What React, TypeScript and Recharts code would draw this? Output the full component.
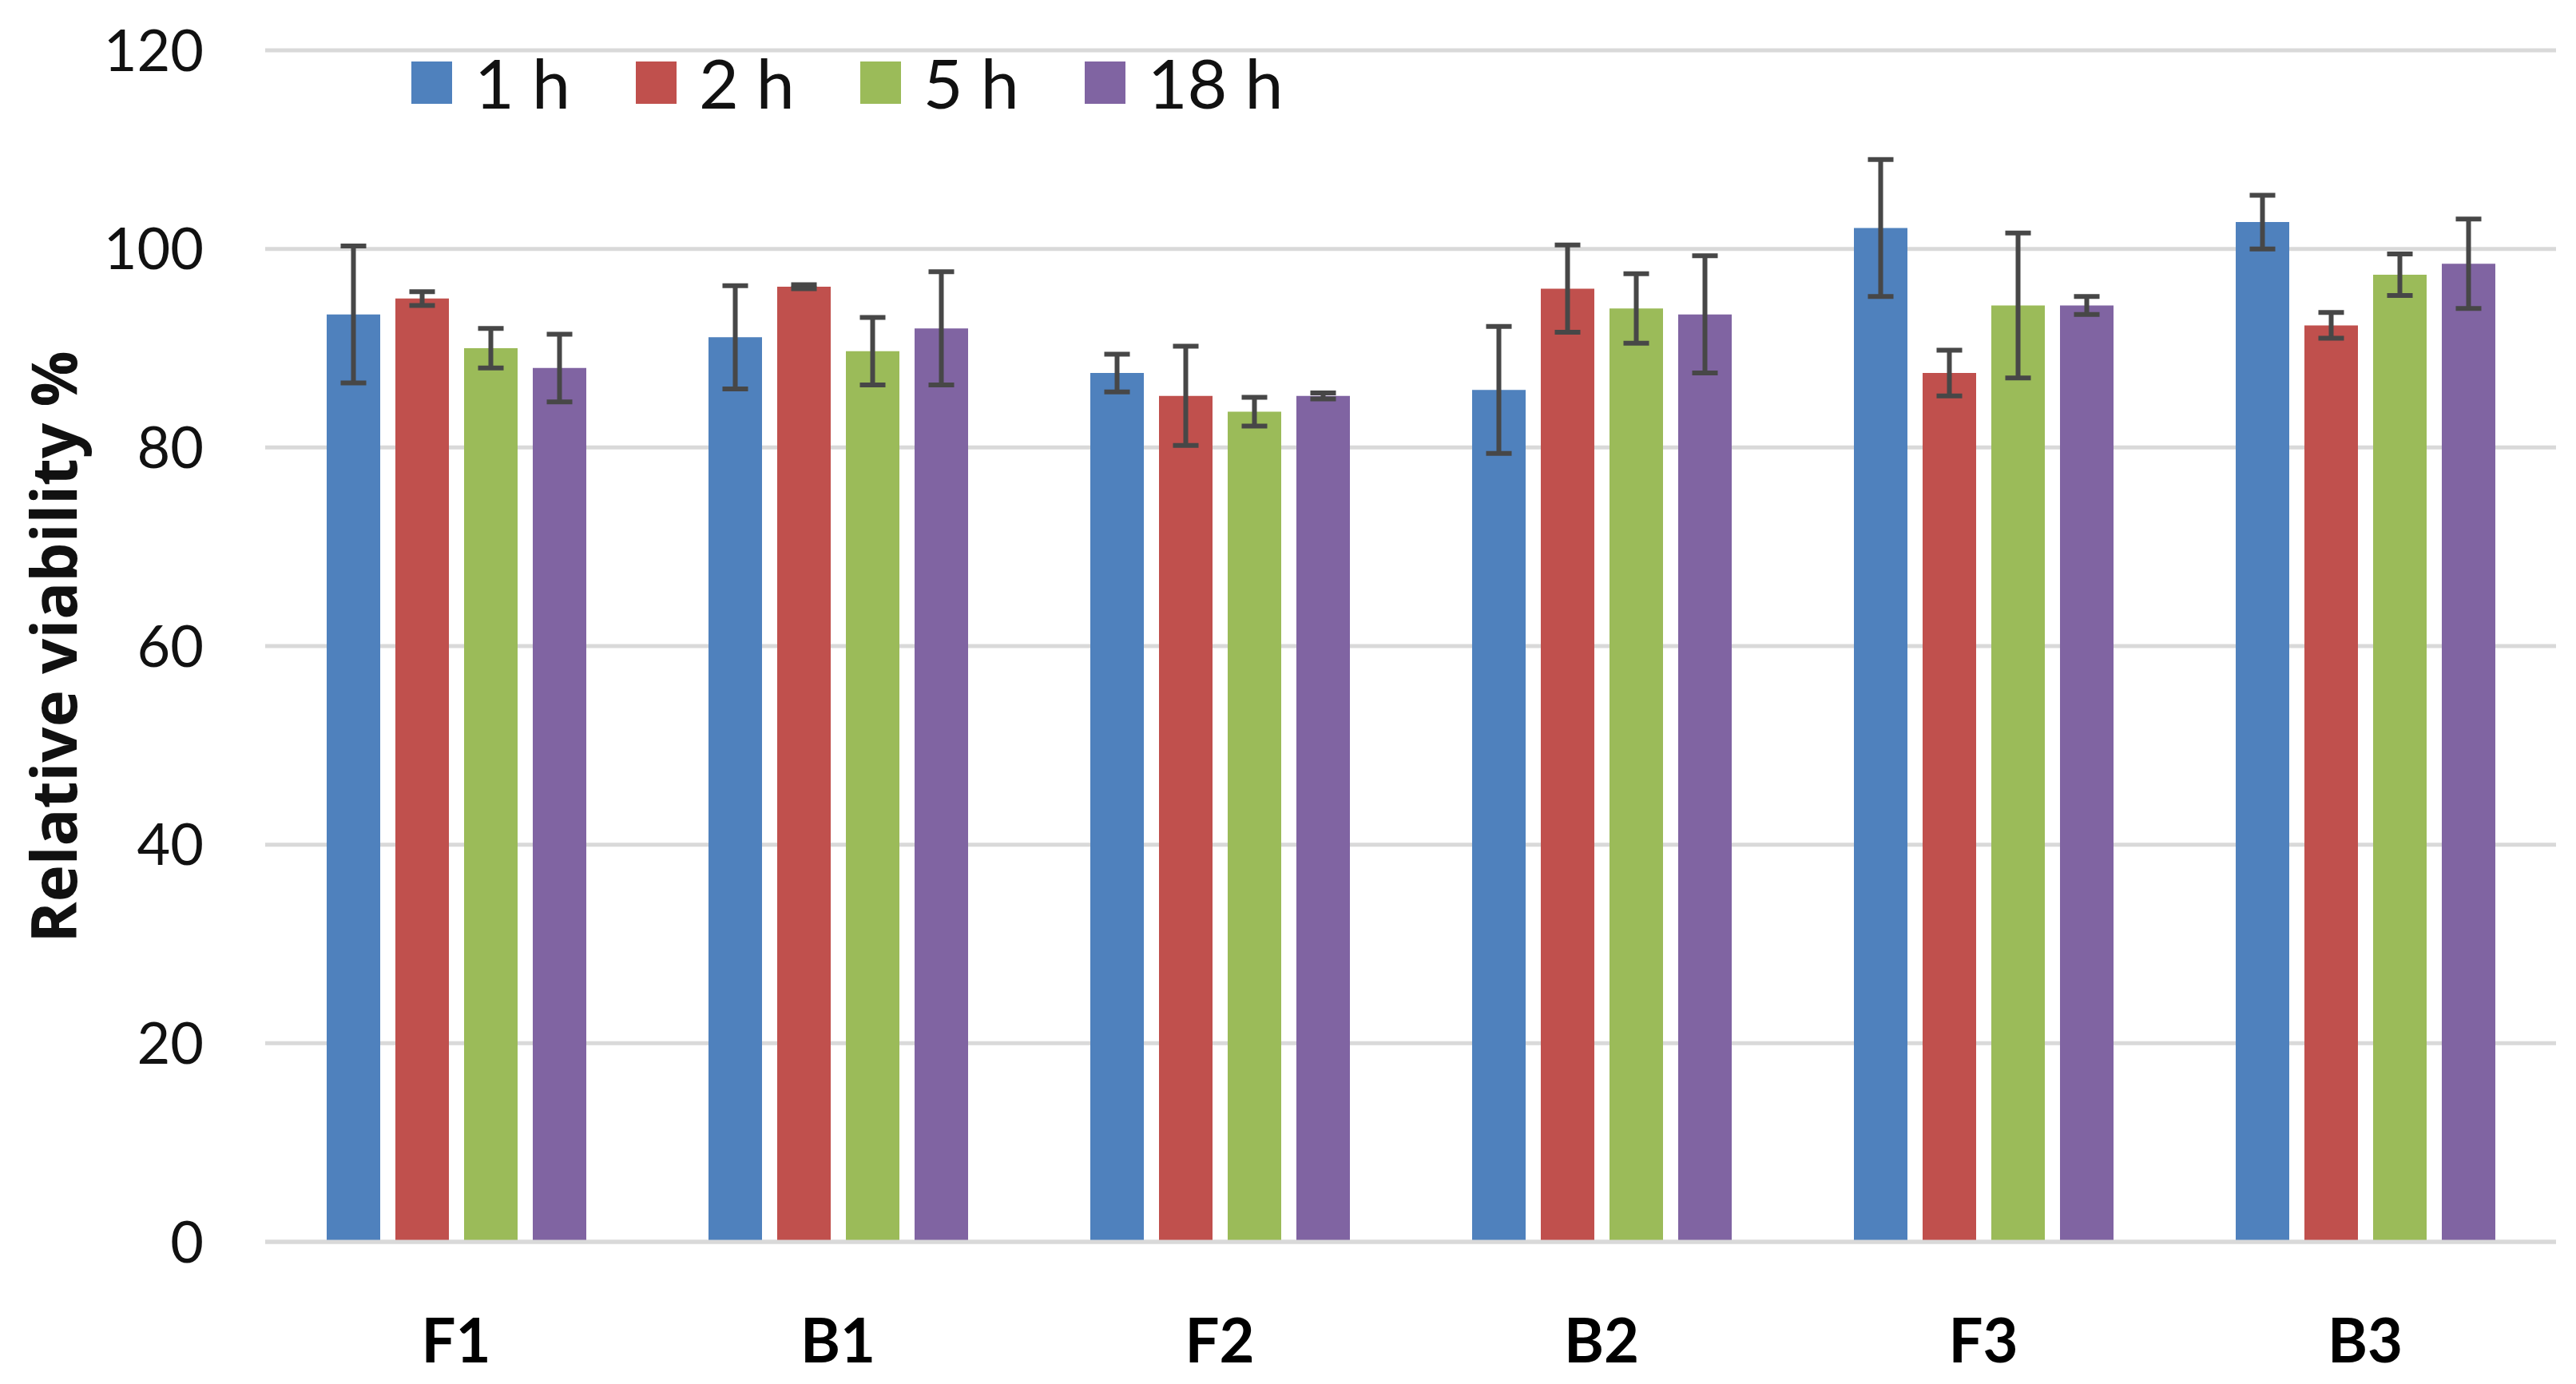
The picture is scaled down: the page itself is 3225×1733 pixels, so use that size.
import { BarChart, Bar, XAxis, YAxis, CartesianGrid, ErrorBar, Legend } from "recharts";

const categories = ["F1", "B1", "F2", "B2", "F3", "B3"];
const h1 = [93.4, 91.1, 87.5, 85.8, 102.1, 102.7];
const h1Err = [6.9, 5.2, 1.9, 6.4, 6.9, 2.7];
const h2 = [95.0, 96.2, 85.2, 96.0, 87.5, 92.3];
const h2Err = [0.7, 0.2, 5.0, 4.4, 2.3, 1.3];
const h5 = [90.0, 89.7, 83.6, 94.0, 94.3, 97.4];
const h5Err = [2.0, 3.4, 1.45, 3.5, 7.3, 2.1];
const h18 = [88.0, 92.0, 85.2, 93.4, 94.3, 98.5];
const h18Err = [3.4, 5.7, 0.3, 5.9, 0.9, 4.5];
const yTicks = [0, 20, 40, 60, 80, 100, 120];

const series = [
  { key: "h1", name: "1 h", color: "#4F81BD" },
  { key: "h2", name: "2 h", color: "#C0504D" },
  { key: "h5", name: "5 h", color: "#9BBB59" },
  { key: "h18", name: "18 h", color: "#8064A2" },
];

const data = categories.map((c, i) => ({
  name: c,
  h1: h1[i],
  h1Err: h1Err[i],
  h2: h2[i],
  h2Err: h2Err[i],
  h5: h5[i],
  h5Err: h5Err[i],
  h18: h18[i],
  h18Err: h18Err[i],
}));

const order = series.map((s) => s.name);

const renderLegend = (props: any) => {
  // keep series order (recharts sorts legend items by name)
  const payload = [...(props.payload || [])].sort(
    (a: any, b: any) => order.indexOf(a.value) - order.indexOf(b.value)
  );
  return (
    <div style={{ display: "flex", alignItems: "center" }}>
      {payload.map((entry: any, i: number) => (
        <div key={i} style={{ display: "flex", alignItems: "center", marginRight: 82 }}>
          <div style={{ width: 51, height: 53, background: entry.color, marginRight: 28 }} />
          <span style={{ fontFamily: "Lato", fontSize: 86, color: "#111", lineHeight: "86px" }}>
            {entry.value}
          </span>
        </div>
      ))}
    </div>
  );
};

const YTitle = () => (
  <text
    x={66}
    y={810}
    transform="rotate(-90 66 810)"
    textAnchor="middle"
    dominantBaseline="central"
    fontFamily="Open Sans"
    fontWeight="bold"
    fontSize={78}
    fill="#111"
  >
    Relative viability %
  </text>
);

export default function App() {
  return (
    <div style={{ position: "absolute", left: 0, top: 0, background: "#fff" }}>
      <BarChart
        width={3225}
        height={1733}
        data={data}
        margin={{ top: 63, right: 25, left: 0, bottom: 0 }}
        barSize={67}
        barGap={19}
        barCategoryGap="16%"
      >
        <CartesianGrid vertical={false} stroke="#D9D9D9" strokeWidth={5} />
        <XAxis
          dataKey="name"
          height={178}
          axisLine={{ stroke: "#D9D9D9", strokeWidth: 5 }}
          tickLine={false}
          tickSize={0}
          tickMargin={97}
          tick={{ fontFamily: "Lato", fontWeight: "bold", fontSize: 76, fill: "#000" }}
        />
        <YAxis
          width={332}
          domain={[0, 120]}
          ticks={yTicks}
          axisLine={false}
          tickLine={false}
          tickSize={0}
          tickMargin={77}
          tick={{ fontFamily: "Lato", fontSize: 72, fill: "#111" }}
          label={{ content: () => <YTitle /> }}
        />
        <Legend
          layout="horizontal"
          verticalAlign="middle"
          align="center"
          content={renderLegend}
          wrapperStyle={{ top: 60, left: 515, width: 1400, height: 86 }}
        />
        {series.map((s) => (
          <Bar key={s.key} dataKey={s.key} name={s.name} fill={s.color} isAnimationActive={false}>
            <ErrorBar dataKey={s.key + "Err"} width={16} stroke="#474747" strokeWidth={6} />
          </Bar>
        ))}
      </BarChart>
    </div>
  );
}
